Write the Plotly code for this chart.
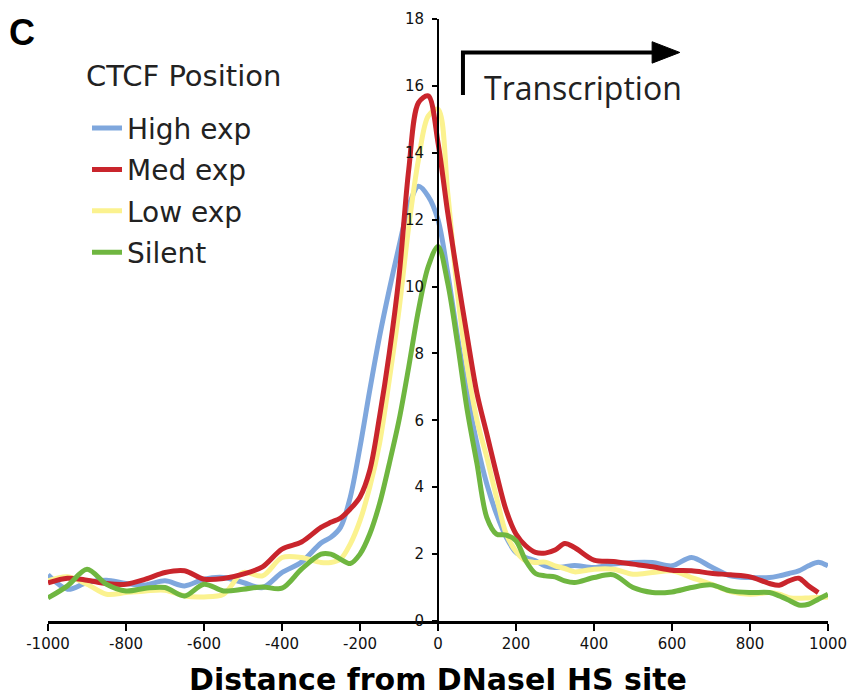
import plotly.graph_objects as go

# ---- data ----
distance = [-1000, -950, -900, -850, -800, -750, -700, -650, -600, -550, -500, -450, -400, -350,
            -300, -275, -250, -225, -200, -175, -150, -125, -100, -75, -50, -25, 0, 25, 50, 75,
            100, 125, 150, 175, 200, 225, 250, 275, 300, 325, 350, 400, 450, 500, 550, 600, 650,
            700, 750, 800, 850, 875, 900, 925, 950, 975, 1000]

high_exp = [1.38, 0.95, 1.15, 1.22, 1.12, 1.08, 1.20, 1.05, 1.25, 1.30, 1.15, 1.00, 1.45, 1.76,
            2.33, 2.50, 2.80, 3.70, 5.20, 6.90, 8.50, 9.90, 11.2, 12.4, 13.0, 12.7, 12.0, 10.4, 8.5, 6.8,
            5.3, 4.1, 3.2, 2.5, 2.05, 1.90, 1.80, 1.65, 1.60, 1.62, 1.66, 1.60, 1.70, 1.75, 1.75, 1.65, 1.90,
            1.62, 1.35, 1.30, 1.30, 1.35, 1.42, 1.50, 1.65, 1.76, 1.65]

med_exp = [1.14, 1.28, 1.22, 1.12, 1.10, 1.25, 1.45, 1.50, 1.25, 1.27, 1.40, 1.62, 2.15, 2.36,
           2.80, 2.95, 3.08, 3.35, 3.71, 4.50, 6.10, 8.00, 10.3, 13.5, 15.5, 15.7, 14.3, 12.2, 10.3, 8.5,
           6.8, 5.6, 4.4, 3.3, 2.60, 2.25, 2.05, 2.03, 2.12, 2.32, 2.20, 1.82, 1.78, 1.70, 1.62, 1.52, 1.50,
           1.43, 1.38, 1.32, 1.12, 1.07, 1.20, 1.28, 1.05, 0.85, None]

low_exp = [1.20, 1.32, 1.10, 0.80, 0.85, 0.90, 0.92, 0.75, 0.72, 0.80, 1.45, 1.35, 1.90, 1.90,
           1.75, 1.75, 1.85, 2.30, 3.00, 4.00, 5.30, 7.20, 9.30, 11.8, 13.8, 15.1, 15.3, 12.8, 9.8, 7.6,
           6.0, 4.9, 3.7, 2.6, 2.08, 1.80, 1.75, 1.76, 1.65, 1.57, 1.47, 1.55, 1.55, 1.40, 1.45, 1.50, 1.30,
           1.10, 0.88, 0.80, 0.85, 0.80, 0.70, 0.68, 0.69, 0.70, 0.72]

silent = [0.69, 1.05, 1.55, 1.10, 0.90, 0.98, 1.00, 0.75, 1.10, 0.90, 0.95, 1.02, 0.98, 1.55,
          2.00, 2.00, 1.85, 1.72, 2.00, 2.60, 3.50, 4.70, 6.00, 7.60, 9.30, 10.6, 11.2, 10.1, 8.3, 6.3,
          4.7, 3.1, 2.6, 2.57, 2.40, 1.80, 1.42, 1.35, 1.32, 1.20, 1.15, 1.30, 1.38, 1.00, 0.85, 0.87, 1.00,
          1.08, 0.90, 0.85, 0.85, 0.75, 0.62, 0.48, 0.50, 0.65, 0.80]

series_names = ["High exp", "Med exp", "Low exp", "Silent"]
y_ticks = [0, 2, 4, 6, 8, 10, 12, 14, 16, 18]
x_ticks = [-1000, -800, -600, -400, -200, 0, 200, 400, 600, 800, 1000]

colors = {"High exp": "#7fa7dd", "Med exp": "#c9252c", "Low exp": "#fbf28f", "Silent": "#6fb640"}
values = {"High exp": high_exp, "Med exp": med_exp, "Low exp": low_exp, "Silent": silent}
rank = {"High exp": 1, "Med exp": 2, "Low exp": 3, "Silent": 4}

fig = go.Figure()
for name in ["High exp", "Low exp", "Med exp", "Silent"]:
    fig.add_trace(go.Scatter(
        x=distance, y=values[name], name=name, mode="lines",
        line=dict(color=colors[name], width=5, shape="spline", smoothing=0.9),
        legendrank=rank[name], legendgroup=name,
    ))

font_main = "DejaVu Sans, Verdana, sans-serif"

fig.update_layout(
    width=853, height=699,
    margin=dict(l=48, r=25, t=19, b=78, autoexpand=False),
    paper_bgcolor="white", plot_bgcolor="white",
    showlegend=True,
    legend=dict(
        x=0.05, y=0.86, xanchor="left", yanchor="top",
        font=dict(family=font_main, size=28, color="#222"),
        tracegroupgap=2, bgcolor="rgba(0,0,0,0)",
    ),
    xaxis=dict(
        range=[-1000, 1000], tickvals=x_ticks, ticktext=[str(t) for t in x_ticks],
        showline=True, linecolor="black", linewidth=2.5,
        ticks="outside", ticklen=7, tickwidth=2, tickcolor="black",
        showgrid=False, zeroline=False, automargin=False,
        tickfont=dict(family=font_main, size=15, color="#111"),
        title=dict(text="<b>Distance from DNaseI HS site</b>",
                   font=dict(family="DejaVu Sans, Verdana, sans-serif", size=30, color="black"),
                   standoff=18),
    ),
    yaxis=dict(
        range=[0, 18], tickvals=y_ticks,
        anchor="free", position=0.5,
        showline=True, linecolor="black", linewidth=2,
        ticks="outside", ticklen=5, tickwidth=2, tickcolor="black",
        showgrid=False, zeroline=False, automargin=False,
        tickfont=dict(family=font_main, size=15, color="#111"),
        ticklabelstandoff=5,
    ),
)

# legend heading
fig.add_annotation(text="CTCF Position", xref="paper", yref="paper", x=0.046, y=0.905,
                   xanchor="left", yanchor="middle", showarrow=False,
                   font=dict(family=font_main, size=29, color="#222"))

# panel label
fig.add_annotation(text="<b>C</b>", xref="paper", yref="paper", x=-0.053, y=1.015,
                   xanchor="left", yanchor="top", showarrow=False,
                   font=dict(family="Liberation Sans, Arial, sans-serif", size=36, color="black"))

# transcription arrow
fig.add_shape(type="path", xref="x", yref="y",
              path="M 64,15.73 L 64,17.0 L 560,17.0",
              line=dict(color="black", width=4))
fig.add_shape(type="path", xref="x", yref="y",
              path="M 549,17.32 L 620,17.0 L 549,16.68 Z",
              fillcolor="black", line=dict(color="black", width=1))
fig.add_annotation(text="Transcription", xref="x", yref="y", x=112, y=15.95,
                   xanchor="left", yanchor="middle", showarrow=False,
                   font=dict(family="Open Sans, sans-serif", size=32, color="#222"))

fig.write_html("out.html")
